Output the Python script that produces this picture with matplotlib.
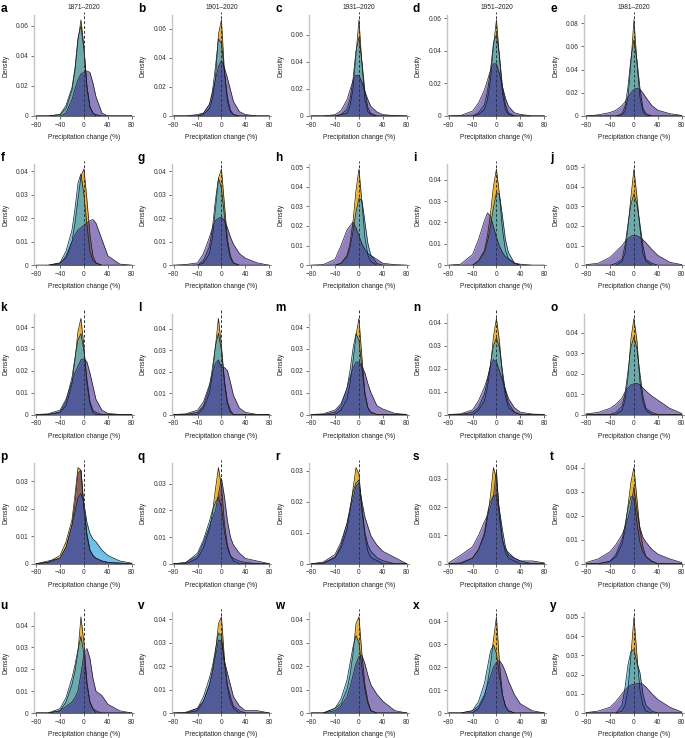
import matplotlib
matplotlib.use("Agg")
import matplotlib.pyplot as plt
from matplotlib.ticker import MaxNLocator, FuncFormatter

plt.rcParams['font.family'] = ['Liberation Sans', 'DejaVu Sans']
plt.rcParams['font.size'] = 4.8

# precipitation change (%) at which the densities were read
change = [-80, -60, -40, -30, -20, -15, -10, -5, 0, 5, 10, 15, 20, 30, 40, 60, 80]

letters = list("abcdefghijklmnopqrstuvwxy")
periods = ["1871\u20132020", "1901\u20132020", "1931\u20132020", "1951\u20132020", "1981\u20132020"]

# orange curves (back layer), one row per panel a..y
dens_orange = [
    [0, 0, 0.001, 0.005, 0.017, 0.030, 0.050, 0.064, 0.046, 0.019, 0.006, 0.002, 0, 0, 0, 0, 0],
    [0, 0, 0, 0.001, 0.005, 0.012, 0.026, 0.056, 0.066, 0.030, 0.010, 0.003, 0.001, 0, 0, 0, 0],
    [0, 0, 0, 0.001, 0.002, 0.007, 0.020, 0.045, 0.071, 0.038, 0.012, 0.003, 0.001, 0, 0, 0, 0],
    [0, 0, 0, 0.001, 0.004, 0.010, 0.022, 0.043, 0.059, 0.036, 0.014, 0.004, 0.001, 0, 0, 0, 0],
    [0, 0, 0, 0, 0.001, 0.004, 0.016, 0.046, 0.083, 0.046, 0.016, 0.004, 0.001, 0, 0, 0, 0],
    [0, 0, 0.001, 0.003, 0.010, 0.018, 0.028, 0.038, 0.041, 0.028, 0.013, 0.004, 0.001, 0, 0, 0, 0],
    [0, 0, 0, 0.001, 0.005, 0.012, 0.024, 0.037, 0.041, 0.026, 0.011, 0.004, 0.001, 0, 0, 0, 0],
    [0, 0, 0, 0.001, 0.005, 0.011, 0.022, 0.038, 0.049, 0.032, 0.014, 0.005, 0.002, 0, 0, 0, 0],
    [0, 0, 0, 0.002, 0.007, 0.014, 0.024, 0.037, 0.045, 0.033, 0.017, 0.007, 0.003, 0.001, 0, 0, 0],
    [0, 0, 0, 0, 0.002, 0.006, 0.019, 0.035, 0.049, 0.035, 0.019, 0.006, 0.002, 0, 0, 0, 0],
    [0, 0, 0.001, 0.004, 0.014, 0.025, 0.038, 0.044, 0.031, 0.014, 0.005, 0.001, 0, 0, 0, 0, 0],
    [0, 0, 0, 0.003, 0.010, 0.019, 0.032, 0.045, 0.032, 0.015, 0.005, 0.001, 0, 0, 0, 0, 0],
    [0, 0, 0, 0.002, 0.007, 0.014, 0.024, 0.036, 0.044, 0.026, 0.010, 0.003, 0.001, 0, 0, 0, 0],
    [0, 0, 0, 0.002, 0.006, 0.012, 0.021, 0.034, 0.042, 0.032, 0.017, 0.008, 0.003, 0.001, 0, 0, 0],
    [0, 0, 0, 0, 0.002, 0.007, 0.018, 0.037, 0.047, 0.036, 0.016, 0.006, 0.002, 0, 0, 0, 0],
    [0, 0.0005, 0.003, 0.008, 0.016, 0.025, 0.035, 0.034, 0.021, 0.011, 0.005, 0.003, 0.002, 0.001, 0.0005, 0, 0],
    [0, 0, 0.002, 0.006, 0.013, 0.019, 0.028, 0.036, 0.029, 0.015, 0.007, 0.003, 0.001, 0, 0, 0, 0],
    [0, 0, 0.002, 0.005, 0.011, 0.017, 0.024, 0.031, 0.029, 0.017, 0.009, 0.004, 0.002, 0.001, 0, 0, 0],
    [0, 0, 0.002, 0.005, 0.010, 0.016, 0.024, 0.034, 0.030, 0.018, 0.009, 0.004, 0.002, 0.001, 0, 0, 0],
    [0, 0, 0.001, 0.003, 0.008, 0.014, 0.024, 0.034, 0.040, 0.027, 0.014, 0.007, 0.003, 0.001, 0, 0, 0],
    [0, 0, 0.001, 0.005, 0.013, 0.019, 0.028, 0.044, 0.032, 0.014, 0.005, 0.002, 0, 0, 0, 0, 0],
    [0, 0, 0.001, 0.005, 0.012, 0.018, 0.026, 0.038, 0.041, 0.023, 0.011, 0.005, 0.002, 0, 0, 0, 0],
    [0, 0, 0.002, 0.004, 0.010, 0.016, 0.025, 0.038, 0.041, 0.025, 0.012, 0.005, 0.001, 0, 0, 0, 0],
    [0, 0, 0, 0.002, 0.007, 0.013, 0.021, 0.032, 0.042, 0.022, 0.008, 0.003, 0.001, 0, 0, 0, 0],
    [0, 0, 0, 0, 0.001, 0.004, 0.012, 0.030, 0.050, 0.030, 0.012, 0.004, 0.001, 0, 0, 0, 0],
]

# blue curves (middle layer)
dens_blue = [
    [0, 0, 0.001, 0.007, 0.019, 0.032, 0.052, 0.060, 0.044, 0.020, 0.006, 0.002, 0.001, 0, 0, 0, 0],
    [0, 0, 0, 0.002, 0.008, 0.017, 0.034, 0.053, 0.050, 0.030, 0.013, 0.004, 0.001, 0, 0, 0, 0],
    [0, 0, 0, 0.001, 0.005, 0.012, 0.027, 0.048, 0.058, 0.040, 0.018, 0.006, 0.002, 0, 0, 0, 0],
    [0, 0, 0, 0.002, 0.007, 0.015, 0.028, 0.045, 0.050, 0.037, 0.018, 0.007, 0.002, 0, 0, 0, 0],
    [0, 0, 0, 0, 0.002, 0.008, 0.025, 0.050, 0.066, 0.048, 0.024, 0.007, 0.002, 0, 0, 0, 0],
    [0, 0, 0.001, 0.006, 0.015, 0.024, 0.035, 0.039, 0.030, 0.017, 0.006, 0.002, 0.001, 0, 0, 0, 0],
    [0, 0, 0, 0.002, 0.008, 0.016, 0.028, 0.037, 0.033, 0.021, 0.009, 0.003, 0.001, 0, 0, 0, 0],
    [0, 0, 0, 0.001, 0.004, 0.009, 0.017, 0.027, 0.034, 0.033, 0.022, 0.011, 0.005, 0.001, 0, 0, 0],
    [0, 0, 0, 0.002, 0.006, 0.011, 0.018, 0.027, 0.034, 0.033, 0.023, 0.012, 0.006, 0.001, 0, 0, 0],
    [0, 0, 0, 0.001, 0.003, 0.010, 0.021, 0.031, 0.0365, 0.031, 0.021, 0.010, 0.003, 0.001, 0, 0, 0],
    [0, 0, 0.001, 0.006, 0.017, 0.026, 0.034, 0.037, 0.029, 0.016, 0.006, 0.002, 0.001, 0, 0, 0, 0],
    [0, 0, 0.001, 0.004, 0.013, 0.022, 0.032, 0.038, 0.030, 0.016, 0.006, 0.002, 0, 0, 0, 0, 0],
    [0, 0, 0.001, 0.004, 0.012, 0.020, 0.030, 0.037, 0.034, 0.021, 0.009, 0.003, 0.001, 0, 0, 0, 0],
    [0, 0, 0.001, 0.003, 0.009, 0.015, 0.022, 0.030, 0.0335, 0.029, 0.019, 0.010, 0.005, 0.001, 0, 0, 0],
    [0, 0, 0, 0.001, 0.004, 0.010, 0.021, 0.033, 0.038, 0.032, 0.020, 0.009, 0.003, 0.001, 0, 0, 0],
    [0, 0.0005, 0.002, 0.006, 0.014, 0.019, 0.024, 0.0255, 0.022, 0.015, 0.011, 0.009, 0.008, 0.005, 0.003, 0.001, 0.0002],
    [0, 0.0003, 0.004, 0.009, 0.016, 0.020, 0.023, 0.025, 0.021, 0.012, 0.006, 0.003, 0.002, 0.001, 0.0005, 0, 0],
    [0, 0.0003, 0.002, 0.006, 0.013, 0.018, 0.023, 0.026, 0.027, 0.018, 0.010, 0.006, 0.004, 0.002, 0.001, 0, 0],
    [0, 0.0003, 0.002, 0.005, 0.011, 0.018, 0.022, 0.024, 0.024, 0.019, 0.012, 0.006, 0.003, 0.002, 0.001, 0, 0],
    [0, 0, 0.001, 0.004, 0.010, 0.016, 0.023, 0.028, 0.027, 0.017, 0.009, 0.005, 0.003, 0.001, 0, 0, 0],
    [0, 0, 0.002, 0.007, 0.016, 0.022, 0.029, 0.035, 0.027, 0.013, 0.005, 0.002, 0.001, 0, 0, 0, 0],
    [0, 0, 0.002, 0.007, 0.015, 0.020, 0.027, 0.034, 0.033, 0.021, 0.012, 0.007, 0.003, 0.001, 0, 0, 0],
    [0, 0, 0.002, 0.006, 0.014, 0.021, 0.028, 0.033, 0.030, 0.019, 0.010, 0.004, 0.001, 0, 0, 0, 0],
    [0, 0, 0.001, 0.005, 0.013, 0.020, 0.027, 0.0297, 0.026, 0.016, 0.008, 0.003, 0.001, 0, 0, 0, 0],
    [0, 0, 0, 0, 0.004, 0.013, 0.025, 0.032, 0.033, 0.026, 0.021, 0.010, 0.004, 0.001, 0, 0, 0],
]

# purple curves (front layer)
dens_purple = [
    [0, 0, 0, 0.002, 0.011, 0.018, 0.024, 0.028, 0.029, 0.030, 0.029, 0.022, 0.013, 0.002, 0, 0, 0],
    [0, 0, 0.001, 0.002, 0.008, 0.016, 0.025, 0.034, 0.038, 0.033, 0.026, 0.018, 0.010, 0.003, 0.001, 0, 0],
    [0, 0, 0.001, 0.004, 0.012, 0.019, 0.026, 0.030, 0.030, 0.025, 0.018, 0.012, 0.007, 0.003, 0.001, 0.0003, 0],
    [0, 0.0003, 0.003, 0.008, 0.016, 0.022, 0.028, 0.032, 0.032, 0.026, 0.018, 0.011, 0.006, 0.002, 0.001, 0, 0],
    [0, 0.001, 0.003, 0.005, 0.009, 0.012, 0.016, 0.020, 0.023, 0.024, 0.023, 0.020, 0.016, 0.009, 0.005, 0.002, 0.0005],
    [0, 0, 0.0005, 0.004, 0.010, 0.013, 0.015, 0.016, 0.017, 0.018, 0.019, 0.0195, 0.018, 0.011, 0.004, 0.0005, 0],
    [0, 0.0003, 0.001, 0.005, 0.012, 0.016, 0.019, 0.020, 0.0205, 0.019, 0.016, 0.012, 0.009, 0.005, 0.003, 0.001, 0],
    [0, 0.0003, 0.003, 0.010, 0.018, 0.020, 0.022, 0.019, 0.015, 0.011, 0.008, 0.006, 0.005, 0.003, 0.001, 0.0003, 0],
    [0, 0.0005, 0.005, 0.012, 0.021, 0.0245, 0.023, 0.018, 0.013, 0.009, 0.006, 0.004, 0.003, 0.001, 0.0005, 0, 0],
    [0.0003, 0.001, 0.004, 0.007, 0.010, 0.012, 0.0135, 0.0148, 0.0153, 0.015, 0.0142, 0.013, 0.0115, 0.008, 0.005, 0.0015, 0.0003],
    [0, 0.0003, 0.002, 0.007, 0.015, 0.019, 0.022, 0.025, 0.0255, 0.024, 0.019, 0.013, 0.007, 0.002, 0.0005, 0, 0],
    [0, 0.0003, 0.002, 0.006, 0.014, 0.019, 0.024, 0.0255, 0.022, 0.022, 0.0205, 0.015, 0.009, 0.003, 0.001, 0, 0],
    [0, 0.0003, 0.002, 0.005, 0.012, 0.017, 0.021, 0.024, 0.024, 0.022, 0.019, 0.014, 0.010, 0.004, 0.0025, 0.0005, 0],
    [0, 0.0003, 0.002, 0.006, 0.012, 0.016, 0.021, 0.024, 0.023, 0.019, 0.015, 0.011, 0.007, 0.003, 0.001, 0.0002, 0],
    [0.0003, 0.001, 0.003, 0.005, 0.008, 0.011, 0.013, 0.0145, 0.015, 0.0152, 0.0145, 0.013, 0.0115, 0.009, 0.007, 0.003, 0.0005],
    [0, 0.001, 0.002, 0.006, 0.014, 0.022, 0.033, 0.034, 0.020, 0.010, 0.005, 0.003, 0.002, 0.001, 0.0005, 0.0003, 0],
    [0, 0.0005, 0.003, 0.008, 0.014, 0.017, 0.020, 0.026, 0.032, 0.025, 0.016, 0.010, 0.007, 0.004, 0.002, 0.001, 0],
    [0, 0.0005, 0.003, 0.007, 0.013, 0.017, 0.021, 0.025, 0.026, 0.020, 0.015, 0.012, 0.009, 0.006, 0.004, 0.002, 0],
    [0.0003, 0.003, 0.006, 0.010, 0.015, 0.017, 0.020, 0.024, 0.033, 0.016, 0.008, 0.005, 0.004, 0.002, 0.001, 0.001, 0.0003],
    [0.0005, 0.002, 0.005, 0.008, 0.012, 0.015, 0.019, 0.024, 0.032, 0.022, 0.015, 0.011, 0.009, 0.006, 0.004, 0.002, 0.0005],
    [0, 0, 0.001, 0.003, 0.005, 0.007, 0.010, 0.018, 0.027, 0.0295, 0.025, 0.016, 0.010, 0.008, 0.004, 0.001, 0],
    [0, 0.0003, 0.002, 0.005, 0.012, 0.017, 0.024, 0.031, 0.031, 0.022, 0.017, 0.012, 0.007, 0.003, 0.001, 0.001, 0],
    [0, 0, 0.001, 0.003, 0.007, 0.011, 0.016, 0.021, 0.024, 0.0245, 0.021, 0.016, 0.012, 0.008, 0.005, 0.001, 0],
    [0, 0, 0.001, 0.003, 0.008, 0.012, 0.016, 0.020, 0.022, 0.023, 0.021, 0.018, 0.014, 0.008, 0.004, 0.001, 0],
    [0.0002, 0.001, 0.003, 0.006, 0.010, 0.012, 0.0135, 0.0145, 0.015, 0.0152, 0.0155, 0.015, 0.0135, 0.010, 0.007, 0.003, 0.0005],
]

W, H = 685, 738
fig = plt.figure(figsize=(W / 100, H / 100), dpi=100)

layers = [
    (dens_orange, "#F1B22C", 1.0),
    (dens_blue, "#3AA8DE", 0.72),
    (dens_purple, "#3B1E8C", 0.56),
]

ax_w, ax_h = 99.3, 101
for i, letter in enumerate(letters):
    r, c = divmod(i, 5)
    left = 34.3 + 137.5 * c
    zero = 116 + 149.25 * r
    ax = fig.add_axes([left / W, (H - zero) / H, ax_w / W, ax_h / H])

    top = 0
    for dens, col, alpha in layers:
        vals = dens[i]
        ax.fill_between(change, 0, vals, color=col, alpha=alpha, lw=0)
        ax.plot(change, vals, color="#1a1a1a", lw=0.5)
        top = max(top, max(vals))

    ax.set_xlim(-83, 83)
    ax.set_ylim(0, top * 1.05)
    ax.plot([0, 0], [0, 1.03], transform=ax.get_xaxis_transform(), color="#333333",
            lw=0.7, dashes=(3, 2), clip_on=False)

    ax.set_xticks([-80, -40, 0, 40, 80])
    ax.yaxis.set_major_locator(MaxNLocator(nbins=6, steps=[1, 2, 5, 10]))
    ax.yaxis.set_major_formatter(FuncFormatter(lambda v, p: "0" if v == 0 else f"{v:g}"))
    ax.tick_params(length=2, width=0.5, pad=2, colors="#333333", labelsize=4.8)

    for s in ["top", "right"]:
        ax.spines[s].set_visible(False)
    ax.spines["left"].set_color("#c4c4c4")
    ax.spines["left"].set_linewidth(1.0)
    ax.spines["bottom"].set_color("#555555")
    ax.spines["bottom"].set_linewidth(0.5)

    ax.set_xlabel("Precipitation change (%)", labelpad=4, color="#222222")
    ax.set_ylabel("Density", color="#222222")
    ax.yaxis.set_label_coords(-0.25, 0.5)

    fig.text((left - 34) / W, (H - zero + ax_h + 3) / H, letter, fontsize=8.5,
             fontweight="bold", ha="left", va="baseline")
    if r == 0:
        ax.set_title(periods[c], pad=4, fontsize=4.8, color="#222222")

fig.savefig("out.png", dpi=100)
